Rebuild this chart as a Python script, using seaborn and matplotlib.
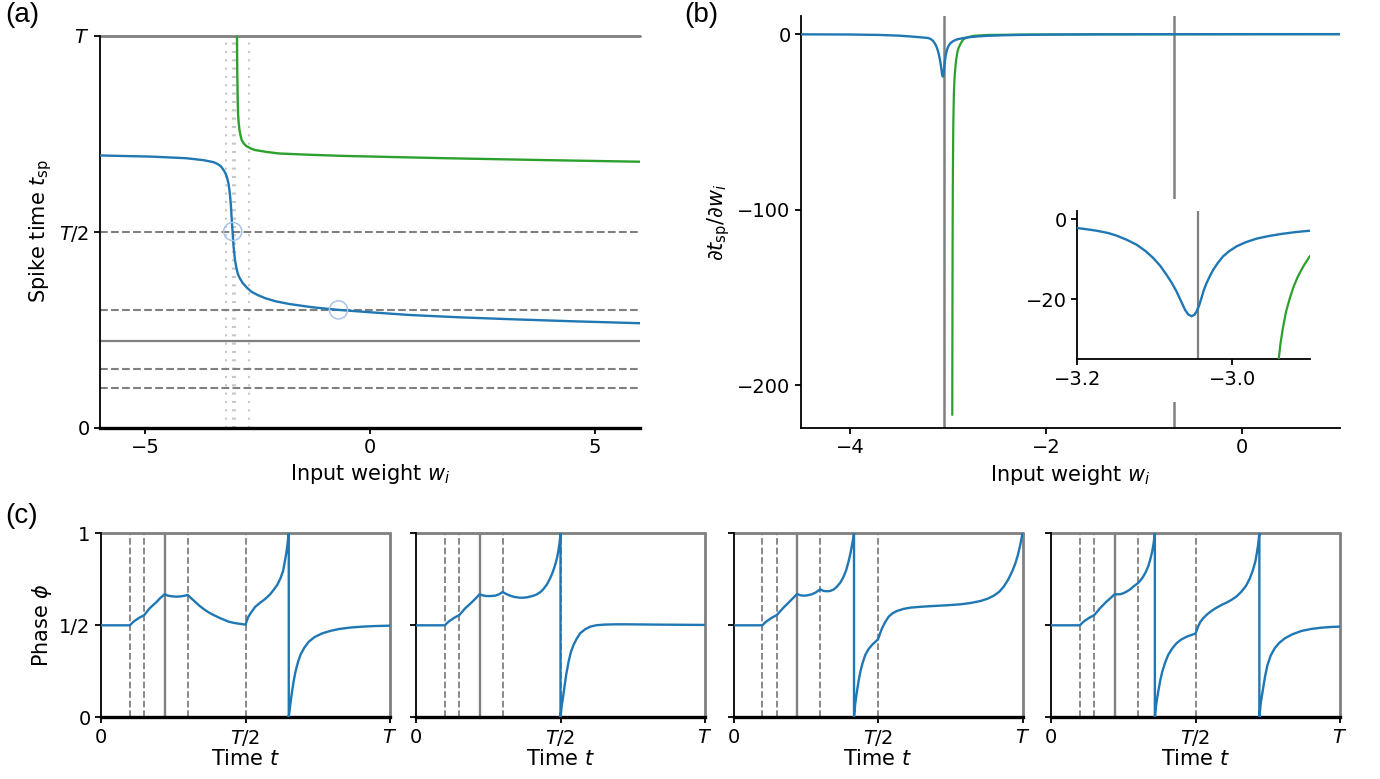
import matplotlib
matplotlib.use("Agg")
import matplotlib.pyplot as plt
from matplotlib.patches import Rectangle
import seaborn as sns

# ---------------- data ----------------
# panel (a): spike time (in units of T) vs input weight
w_blue = [-6.0, -4.85, -4.09, -3.70, -3.48, -3.40, -3.32, -3.26, -3.21, -3.175, -3.146,
          -3.125, -3.108, -3.09, -3.077, -3.065, -3.054, -3.042, -3.031, -3.015, -3.0,
          -2.97, -2.94, -2.90, -2.825, -2.73, -2.63, -2.48, -2.33, -2.1, -1.79, -1.3,
          -0.70, 0.0, 0.886, 2.0, 3.18, 4.5, 6.0]
t_blue = [0.694, 0.691, 0.687, 0.682, 0.677, 0.673, 0.667, 0.658, 0.648, 0.637, 0.623,
          0.607, 0.589, 0.565, 0.538, 0.518, 0.4995, 0.479, 0.461, 0.443, 0.427,
          0.408, 0.393, 0.382, 0.368, 0.356, 0.346, 0.337, 0.330, 0.322, 0.315, 0.307,
          0.300, 0.294, 0.287, 0.281, 0.276, 0.271, 0.266]
w_green = [-2.955, -2.953, -2.950, -2.947, -2.94, -2.932, -2.92, -2.90, -2.875, -2.85,
           -2.80, -2.75, -2.65, -2.56, -2.3, -2.02, -1.4, -0.64, 0.5, 1.65, 3.95, 6.0]
t_green = [1.0, 0.95, 0.91, 0.886, 0.84, 0.801, 0.779, 0.759, 0.744, 0.733,
           0.724, 0.718, 0.712, 0.708, 0.703, 0.699, 0.696, 0.693, 0.690, 0.687, 0.682, 0.678]

input_times_dashed = [0.10, 0.15, 0.30, 0.50]
input_time_varied = 0.22
panel_weights = [-3.20, -3.05, -2.99, -2.70]
circle_w = [-3.05, -0.70]
circle_t = [0.50, 0.30]
marked_w = [-3.045, -0.69]

# panel (b): derivative of spike time
wb_blue = [-4.5, -4.0, -3.7, -3.5, -3.35, -3.2, -3.19, -3.175, -3.16, -3.149, -3.136,
           -3.1235, -3.112, -3.102, -3.093, -3.085, -3.078, -3.072, -3.066, -3.061, -3.057,
           -3.0527, -3.049, -3.0463, -3.043, -3.040, -3.037, -3.0334, -3.029, -3.0249,
           -3.019, -3.012, -3.004, -2.9948, -2.983, -2.969, -2.952, -2.935, -2.918, -2.9004,
           -2.85, -2.8, -2.7, -2.6, -2.45, -2.3, -2.0, -1.5, -1.0, 0.0, 1.0]
db_blue = [-0.15, -0.25, -0.5, -0.9, -1.5, -2.25, -2.5, -2.92, -3.5, -4.17, -5.2,
           -6.42, -8.0, -9.75, -11.7, -13.9, -16.0, -18.1, -20.6, -22.7, -23.8,
           -24.25, -23.9, -23.1, -21.6, -19.75, -17.8, -16.0, -14.2, -12.7,
           -11.0, -9.3, -8.0, -6.83, -5.8, -4.9, -4.2, -3.67, -3.25, -2.92,
           -2.35, -1.9, -1.35, -1.0, -0.7, -0.5, -0.3, -0.17, -0.1, -0.05, -0.03]
wb_green = [-2.9565, -2.955, -2.953, -2.950, -2.946, -2.9404, -2.938, -2.935, -2.931,
            -2.926, -2.921, -2.9155, -2.908, -2.9004, -2.89, -2.87, -2.844, -2.80, -2.742,
            -2.6, -2.27, -1.5, 0.0, 1.0]
db_green = [-217, -165, -115, -78, -52, -35, -31, -27.3, -23.2,
            -19.75, -16.8, -14.3, -11.6, -9.33, -7.6, -5.3, -3.0, -1.8, -1.0,
            -0.5, -0.3, -0.15, -0.06, -0.04]

# panel (c): phase vs time (time in units of T)
c1_t = [0.0, 0.10, 0.108, 0.116, 0.125, 0.133, 0.142, 0.15, 0.168, 0.191, 0.205, 0.22,
        0.232, 0.2436, 0.255, 0.267, 0.28, 0.29, 0.30, 0.31, 0.325, 0.34, 0.36, 0.377,
        0.394, 0.415, 0.441, 0.46, 0.476, 0.50, 0.505, 0.510, 0.520, 0.534, 0.550, 0.568,
        0.585, 0.597, 0.610, 0.621, 0.630, 0.636, 0.641, 0.645, 0.6497,
        0.6497, 0.655, 0.661, 0.667, 0.673, 0.681, 0.690, 0.703, 0.719, 0.740, 0.766,
        0.795, 0.824, 0.865, 0.905, 0.95, 1.0]
c1_p = [0.5, 0.5, 0.513, 0.5236, 0.533, 0.5417, 0.549, 0.556, 0.592, 0.625, 0.648, 0.6685,
        0.661, 0.658, 0.656, 0.656, 0.658, 0.661, 0.665, 0.650, 0.6286, 0.607, 0.583, 0.566,
        0.5525, 0.537, 0.520, 0.513, 0.509, 0.5036, 0.527, 0.547, 0.571, 0.601, 0.622, 0.643,
        0.668, 0.692, 0.720, 0.755, 0.795, 0.846, 0.89, 0.9366, 1.0,
        0.0, 0.07, 0.1395, 0.20, 0.248, 0.297, 0.339, 0.377, 0.411, 0.437, 0.4565,
        0.470, 0.480, 0.488, 0.4928, 0.496, 0.498]
c2_t = [0.0, 0.10, 0.108, 0.116, 0.125, 0.133, 0.142, 0.15, 0.170, 0.193, 0.207, 0.22,
        0.232, 0.245, 0.26, 0.274, 0.288, 0.30, 0.31, 0.326, 0.338, 0.349, 0.36, 0.372,
        0.384, 0.395, 0.407, 0.418, 0.43, 0.441, 0.453, 0.464, 0.473, 0.4815, 0.488, 0.493,
        0.497, 0.500, 0.500, 0.504, 0.508, 0.513, 0.520, 0.528, 0.536, 0.545, 0.556, 0.568,
        0.585, 0.603, 0.625, 0.649, 0.69, 0.73, 0.845, 1.0]
c2_p = [0.5, 0.5, 0.513, 0.5236, 0.533, 0.5417, 0.549, 0.556, 0.592, 0.625, 0.647, 0.6685,
        0.662, 0.659, 0.659, 0.661, 0.669, 0.681, 0.672, 0.661, 0.655, 0.652, 0.650, 0.650,
        0.652, 0.656, 0.661, 0.668, 0.680, 0.697, 0.722, 0.755, 0.788, 0.828, 0.866, 0.909,
        0.95, 1.0, 0.0, 0.06, 0.10, 0.158, 0.235, 0.3025, 0.355, 0.393, 0.427, 0.4565,
        0.478, 0.4928, 0.5005, 0.5036, 0.5054, 0.5054, 0.5036, 0.502]
c3_t = [0.0, 0.10, 0.108, 0.116, 0.125, 0.133, 0.142, 0.15, 0.173, 0.196, 0.208, 0.22,
        0.232, 0.2425, 0.256, 0.271, 0.285, 0.30, 0.312, 0.323, 0.335, 0.347, 0.358, 0.370,
        0.381, 0.390, 0.398, 0.405, 0.410, 0.414, 0.417,
        0.417, 0.421, 0.427, 0.433, 0.439, 0.447, 0.456, 0.467, 0.479, 0.49, 0.50, 0.507,
        0.514, 0.525, 0.537, 0.55, 0.566, 0.588, 0.612, 0.65, 0.693, 0.74, 0.785, 0.82,
        0.8545, 0.88, 0.9007, 0.92, 0.935, 0.95, 0.964, 0.975, 0.984, 0.992, 1.0]
c3_p = [0.5, 0.5, 0.513, 0.5236, 0.533, 0.5417, 0.549, 0.556, 0.596, 0.632, 0.651, 0.670,
        0.663, 0.661, 0.663, 0.6685, 0.679, 0.6957, 0.6866, 0.685, 0.6866, 0.695, 0.710, 0.733,
        0.7645, 0.800, 0.846, 0.893, 0.9366, 0.97, 1.0,
        0.0, 0.07, 0.1395, 0.199, 0.248, 0.297, 0.339, 0.370, 0.393, 0.409, 0.424, 0.455,
        0.4837, 0.518, 0.547, 0.565, 0.578, 0.589, 0.596, 0.601, 0.605, 0.609, 0.614, 0.621,
        0.632, 0.645, 0.661, 0.683, 0.710, 0.747, 0.792, 0.835, 0.882, 0.935, 1.0]
c4_t = [0.0, 0.10, 0.108, 0.116, 0.125, 0.133, 0.142, 0.15, 0.169, 0.192, 0.206, 0.22,
        0.2385, 0.25, 0.2615, 0.2735, 0.2846, 0.30, 0.31, 0.319, 0.328, 0.336, 0.343, 0.350,
        0.355, 0.3594,
        0.3594, 0.364, 0.371, 0.378, 0.385, 0.395, 0.4055, 0.419, 0.434, 0.45, 0.469, 0.485,
        0.50, 0.509, 0.5165, 0.5265, 0.54, 0.555, 0.572, 0.590, 0.607, 0.624, 0.642, 0.659,
        0.675, 0.688, 0.698, 0.707, 0.712, 0.7166, 0.721,
        0.721, 0.726, 0.734, 0.741, 0.749, 0.760, 0.774, 0.79, 0.809, 0.835, 0.866, 0.9,
        0.935, 0.97, 1.0]
c4_p = [0.5, 0.5, 0.513, 0.5236, 0.533, 0.5417, 0.549, 0.556, 0.592, 0.6286, 0.648, 0.6685,
        0.6685, 0.674, 0.683, 0.695, 0.710, 0.728, 0.745, 0.7645, 0.790, 0.819, 0.855, 0.900,
        0.945, 1.0,
        0.0, 0.07, 0.1395, 0.200, 0.248, 0.298, 0.339, 0.373, 0.402, 0.422, 0.438, 0.447,
        0.4547, 0.4928, 0.518, 0.538, 0.559, 0.578, 0.595, 0.6105, 0.623, 0.6377, 0.657, 0.683,
        0.715, 0.755, 0.797, 0.846, 0.89, 0.9366, 1.0,
        0.0, 0.08, 0.158, 0.225, 0.284, 0.335, 0.375, 0.405, 0.429, 0.451, 0.469, 0.480,
        0.487, 0.491, 0.4928]
c_inputs_dashed = [0.10, 0.15, 0.30, 0.50]

time_ticks = [0, 0.5, 1.0]
time_labels = ["0", "$T/2$", "$T$"]
phase_ticks = [0, 0.5, 1.0]
phase_labels = ["0", "1/2", "1"]

# ---------------- style ----------------
sns.set_theme(style="ticks", rc={
    "axes.edgecolor": "black", "axes.labelcolor": "black", "text.color": "black",
    "xtick.color": "black", "ytick.color": "black",
    "axes.linewidth": 1.3, "xtick.major.width": 1.3, "ytick.major.width": 1.3,
    "xtick.major.size": 4, "ytick.major.size": 4,
    "xtick.labelsize": 14, "ytick.labelsize": 14, "axes.labelsize": 15,
})
plt.rcParams["font.family"] = ["DejaVu Sans"]
plt.rcParams["mathtext.fontset"] = "dejavusans"

BLUE = "#1f77b4"
GREEN = "#2ca02c"
GRAY = "#808080"
W, H = 1380, 779
fig = plt.figure(figsize=(W / 100, H / 100), dpi=100)


def box(l, r, top, bottom):
    return [l / W, 1 - bottom / H, (r - l) / W, (bottom - top) / H]


def despine(ax, bottom_lw=1.3):
    ax.spines["top"].set_visible(False)
    ax.spines["right"].set_visible(False)
    ax.spines["bottom"].set_linewidth(bottom_lw)


def curve(ax, x, y, color, lw=1.7):
    sns.lineplot(x=x, y=y, sort=False, estimator=None, color=color, lw=lw, ax=ax, zorder=3)


# ---------------- panel (a) ----------------
axA = fig.add_axes(box(100, 640, 35.5, 427.5))
for w in panel_weights:
    axA.axvline(w, color="#c8c8c8", lw=1.5, ls=(0, (1, 3)), zorder=1)
axA.axhline(1.0, color=GRAY, lw=2.0, clip_on=False, zorder=1.5)
for t in input_times_dashed:
    axA.axhline(t, color=GRAY, lw=1.5, ls="--", zorder=1.5)
axA.axhline(input_time_varied, color=GRAY, lw=1.6, zorder=1.5)
curve(axA, w_green, t_green, GREEN)
curve(axA, w_blue, t_blue, BLUE)
axA.scatter(circle_w, circle_t, s=170, facecolors="none", edgecolors="#a9c4e6",
            linewidths=1.1, zorder=4)
axA.set_xlim(-6, 6)
axA.set_ylim(0, 1)
axA.set_xticks([-5, 0, 5])
axA.set_yticks(time_ticks)
axA.set_yticklabels(time_labels)
axA.set_xlabel("Input weight $w_i$")
axA.set_ylabel("Spike time $t_{\\mathrm{sp}}$")
despine(axA, bottom_lw=2.4)

# ---------------- panel (b) ----------------
axB = fig.add_axes(box(801, 1340, 16, 428))
for w in marked_w:
    axB.axvline(w, color=GRAY, lw=1.8, zorder=1)
curve(axB, wb_green, db_green, GREEN, lw=1.6)
curve(axB, wb_blue, db_blue, BLUE)
axB.set_xlim(-4.5, 1.0)
axB.set_ylim(-224.5, 10.3)
axB.set_xticks([-4, -2, 0])
axB.set_yticks([0, -100, -200])
axB.set_xlabel("Input weight $w_i$")
axB.set_ylabel("$\\partial t_{\\mathrm{sp}}/\\partial w_i$")
despine(axB)

# inset
axI = fig.add_axes(box(1077.3, 1310, 211, 359.3))
axI.add_patch(Rectangle((-0.4, -0.29), 1.5, 1.37, transform=axI.transAxes,
                        facecolor="white", edgecolor="none", clip_on=False, zorder=-5))
for w in marked_w:
    axI.axvline(w, color=GRAY, lw=1.6, zorder=1)
curve(axI, wb_green, db_green, GREEN, lw=1.6)
curve(axI, wb_blue, db_blue, BLUE)
axI.set_xlim(-3.2, -2.9)
axI.set_ylim(-35, 2)
axI.set_xticks([-3.2, -3.0])
axI.set_yticks([0, -20])
axI.set_xlabel("")
axI.set_ylabel("")
despine(axI)

# ---------------- panel (c) ----------------
c_series = [(c1_t, c1_p), (c2_t, c2_p), (c3_t, c3_p), (c4_t, c4_p)]
c_lefts = [101, 416, 733.5, 1051]
for k, ((tt, pp), left) in enumerate(zip(c_series, c_lefts)):
    ax = fig.add_axes(box(left, left + 289, 533.3, 717.3))
    for t in c_inputs_dashed:
        ax.axvline(t, color=GRAY, lw=1.3, ls="--", zorder=1)
    ax.axvline(input_time_varied, color=GRAY, lw=1.7, zorder=1)
    ax.axvline(1.0, color=GRAY, lw=2.0, clip_on=False, zorder=1)
    ax.axhline(1.0, color=GRAY, lw=2.0, clip_on=False, zorder=1)
    curve(ax, tt, pp, BLUE)
    ax.set_xlim(0, 1)
    ax.set_ylim(0, 1)
    ax.set_xticks(time_ticks)
    ax.set_xticklabels(time_labels)
    ax.set_yticks(phase_ticks)
    if k == 0:
        ax.set_yticklabels(phase_labels)
        ax.set_ylabel("Phase $\\phi$")
    else:
        ax.set_yticklabels([])
        ax.set_ylabel("")
    ax.set_xlabel("Time $t$", labelpad=1)
    despine(ax, bottom_lw=2.4)

# panel letters
for label, x, y in [("(a)", 5, 2), ("(b)", 684, 2), ("(c)", 5, 503)]:
    fig.text(x / W, 1 - y / H, label, fontsize=20, family="Liberation Sans",
             ha="left", va="top")

fig.savefig("out.png", dpi=100)
